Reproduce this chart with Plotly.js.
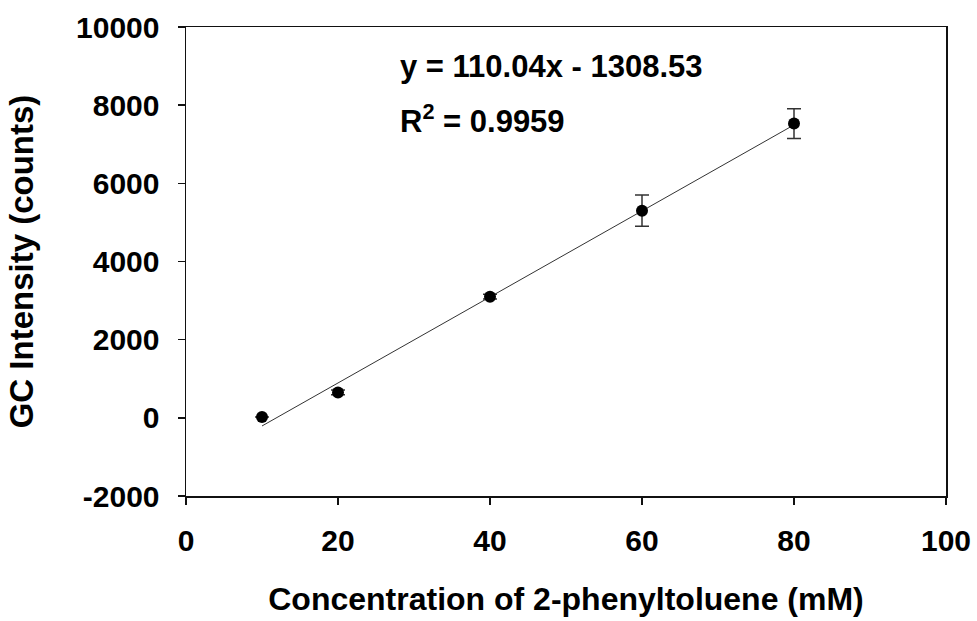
<!DOCTYPE html>
<html>
<head>
<meta charset="utf-8">
<script src="https://cdn.plot.ly/plotly-3.0.1.min.js"></script>
<style>
  html, body { margin: 0; padding: 0; background: #fff; }
  #chart { width: 977px; height: 621px; }
</style>
</head>
<body>
<div id="chart"></div>
<script>
// Calibration data: GC response vs. 2-phenyltoluene concentration
const concentration = [10, 20, 40, 60, 80];            // mM
const intensity     = [20, 650, 3100, 5300, 7530];     // counts
const intensityErr  = [null, 60, 60, 400, 380];        // counts (± error; none at 10 mM)

// Linear fit reported for the calibration
const fitSlope = 110.04;
const fitIntercept = -1308.53;
const fitR2 = 0.9959;
const fitRange = [10, 80];

const xTicks = [0, 20, 40, 60, 80, 100];
const yTicks = [-2000, 0, 2000, 4000, 6000, 8000, 10000];

const fitX = fitRange;
const fitY = fitRange.map(x => fitSlope * x + fitIntercept);

const fontFamily = 'Arial, "Liberation Sans", sans-serif';

const traces = [
  {
    x: fitX, y: fitY,
    mode: 'lines', type: 'scatter',
    line: { color: '#333', width: 1 },
    hoverinfo: 'skip', showlegend: false
  },
  {
    x: concentration, y: intensity,
    mode: 'markers', type: 'scatter',
    marker: { color: '#000', size: 12 },
    error_y: { type: 'data', array: intensityErr, visible: true,
               color: '#333', thickness: 1.5, width: 7 },
    showlegend: false
  }
];

const axisCommon = {
  showgrid: false, zeroline: false,
  showline: true, linecolor: '#111', linewidth: 1.5, mirror: true,
  ticks: 'outside', ticklen: 7, tickwidth: 1.5, tickcolor: '#111',
  tickfont: { family: fontFamily, size: 30, color: '#000', weight: 'bold' }
};

const fitText = 'y = ' + fitSlope.toFixed(2) + 'x - ' + Math.abs(fitIntercept).toFixed(2);
const r2Text = 'R<sup>2</sup> = ' + fitR2.toFixed(4);

const layout = {
  width: 977, height: 621,
  margin: { l: 186, r: 31, t: 27, b: 125 },
  paper_bgcolor: '#fff', plot_bgcolor: '#fff',
  font: { family: fontFamily, color: '#000' },
  xaxis: Object.assign({}, axisCommon, {
    range: [0, 100], tickvals: xTicks, ticktext: xTicks.map(String),
    ticklabelstandoff: 10,
    title: { text: 'Concentration of 2-phenyltoluene (mM)', standoff: 32,
             font: { family: fontFamily, size: 32, color: '#000', weight: 'bold' } }
  }),
  yaxis: Object.assign({}, axisCommon, {
    range: [-2000, 10000], tickvals: yTicks, ticktext: yTicks.map(String),
    ticklabelstandoff: 12,
    title: { text: 'GC Intensity (counts)', standoff: 32,
             font: { family: fontFamily, size: 33, color: '#000', weight: 'bold' } }
  }),
  annotations: [
    { xref: 'x', yref: 'y', x: 27.9, y: 9000, text: fitText, showarrow: false,
      xanchor: 'left', yanchor: 'middle',
      font: { family: fontFamily, size: 31, color: '#000', weight: 'bold' } },
    { xref: 'x', yref: 'y', x: 27.9, y: 7650, text: r2Text, showarrow: false,
      xanchor: 'left', yanchor: 'middle',
      font: { family: fontFamily, size: 31, color: '#000', weight: 'bold' } }
  ]
};

Plotly.newPlot('chart', traces, layout, { staticPlot: true, displayModeBar: false });
</script>
</body>
</html>
